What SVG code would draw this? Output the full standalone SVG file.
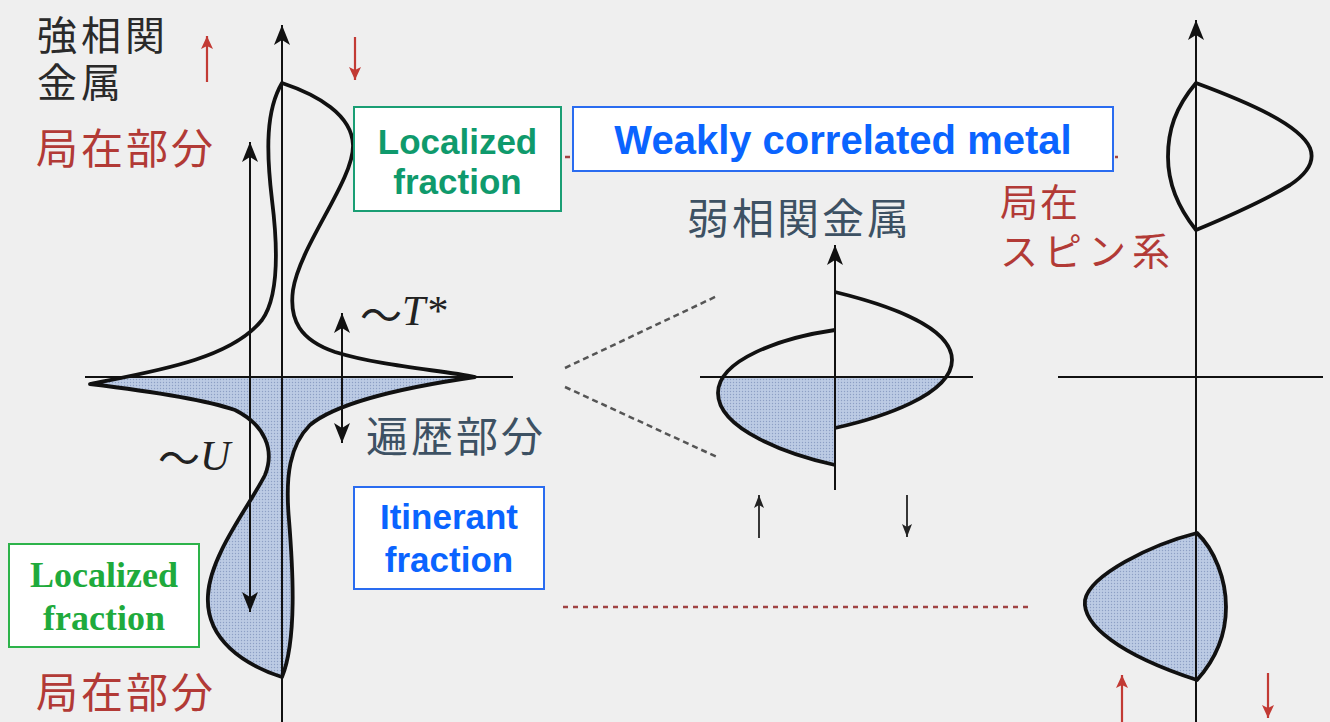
<svg xmlns="http://www.w3.org/2000/svg" width="1330" height="722" viewBox="0 0 1330 722">
<style>
.ax{stroke:#111;stroke-width:2;fill:none}
.cv{stroke:#111;stroke-width:3.8;fill:none;stroke-linejoin:round}
.sh{fill:url(#dots);stroke:none}
.jp{font-family:"Noto Sans CJK JP","Noto Sans CJK SC",sans-serif}
.red{fill:#b23a36}
.slate{fill:#3d5163}
.blk{fill:#2a2a2a}
.en{font-family:"Liberation Sans",Arial,sans-serif;font-weight:bold;text-anchor:middle}
.ser{font-family:"Liberation Serif","Times New Roman",serif;font-weight:bold;text-anchor:middle}
.rarr{stroke:#c23a34;stroke-width:2.2;fill:none}
.tarr{stroke:#222;stroke-width:1.8;fill:none}
</style>
<defs>
<pattern id="dots" width="3" height="3" patternUnits="userSpaceOnUse">
<rect width="3" height="3" fill="#bccbe4"/>
<circle cx="1.5" cy="1.5" r="0.7" fill="#8d9fc4"/>
</pattern>
<marker id="ah" markerUnits="userSpaceOnUse" markerWidth="22" markerHeight="16" refX="20" refY="8" orient="auto-start-reverse">
<path d="M0,0 L20,8 L0,16 L5,8 z" fill="#111"/>
</marker>
<marker id="ahs" markerUnits="userSpaceOnUse" markerWidth="14" markerHeight="10" refX="13" refY="5" orient="auto-start-reverse">
<path d="M0,0 L13,5 L0,10 L3,5 z" fill="#222"/>
</marker>
<marker id="ahr" markerUnits="userSpaceOnUse" markerWidth="14" markerHeight="12" refX="13" refY="6" orient="auto">
<path d="M0,0 L13,6 L0,12 L3,6 z" fill="#c23a34"/>
</marker>
<clipPath id="below"><rect x="0" y="377" width="1330" height="345"/></clipPath>
</defs>
<rect width="1330" height="722" fill="#efefef"/>

<g id="left-plot">
<path class="sh" clip-path="url(#below)" d="M282,83 C318,95 352,115 353,145 C354,180 300,245 293,290 C289,320 300,340 335,352 C380,366 440,370 475,377 C420,385 340,400 310,425 C290,445 285,475 289,520 C293,570 297,640 282,677 C245,665 205,640 208,595 C210,555 250,505 265,475 C275,450 265,425 235,410 C200,398 140,390 90,384 C150,372 230,360 262,320 C280,295 277,240 272,200 C266,150 266,110 282,83 Z"/>
<line class="ax" x1="85" y1="377" x2="513" y2="377"/>
<line class="ax" x1="282" y1="722" x2="282" y2="25" marker-end="url(#ah)"/>
<path class="cv" d="M282,83 C318,95 352,115 353,145 C354,180 300,245 293,290 C289,320 300,340 335,352 C380,366 440,370 475,377 C420,385 340,400 310,425 C290,445 285,475 289,520 C293,570 297,640 282,677 C245,665 205,640 208,595 C210,555 250,505 265,475 C275,450 265,425 235,410 C200,398 140,390 90,384 C150,372 230,360 262,320 C280,295 277,240 272,200 C266,150 266,110 282,83 Z"/>
</g>

<g id="middle-plot">
<path class="sh" clip-path="url(#below)" d="M835,292 C880,303 952,325 952,360 C952,395 880,418 835,428 Z"/>
<path class="sh" clip-path="url(#below)" d="M835,330 C780,338 718,360 718,393 C718,430 790,455 835,465 Z"/>
<line class="ax" x1="700" y1="377" x2="973" y2="377"/>
<line class="ax" x1="835" y1="490" x2="835" y2="245" marker-end="url(#ah)"/>
<path class="cv" d="M835,292 C880,303 952,325 952,360 C952,395 880,418 835,428"/>
<path class="cv" d="M835,330 C780,338 718,360 718,393 C718,430 790,455 835,465"/>
</g>

<g id="right-plot">
<path class="sh" d="M1197,533 C1150,545 1090,575 1085,600 C1082,625 1120,655 1197,680 C1215,660 1226,635 1226,607 C1226,580 1215,550 1197,533 Z"/>
<line class="ax" x1="1058" y1="377" x2="1323" y2="377"/>
<line class="ax" x1="1196" y1="722" x2="1196" y2="20" marker-end="url(#ah)"/>
<path class="cv" d="M1196,83 C1250,103 1300,125 1310,148 C1316,163 1305,175 1290,185 C1260,203 1220,220 1196,230 C1180,210 1168,185 1168,157 C1168,130 1175,108 1196,83 Z"/>
<path class="cv" d="M1197,533 C1150,545 1090,575 1085,600 C1082,625 1120,655 1197,680 C1215,660 1226,635 1226,607 C1226,580 1215,550 1197,533 Z"/>
</g>

<g id="connectors">
<line class="ax" x1="250" y1="142" x2="250" y2="612" marker-start="url(#ah)" marker-end="url(#ah)"/>
<line class="ax" x1="342" y1="313" x2="342" y2="443" marker-start="url(#ah)" marker-end="url(#ah)"/>
<line x1="565" y1="368" x2="717" y2="296" stroke="#555" stroke-width="2.5" stroke-dasharray="6,4"/>
<line x1="565" y1="387" x2="717" y2="457" stroke="#555" stroke-width="2.5" stroke-dasharray="6,4"/>
<line x1="563" y1="607" x2="1030" y2="607" stroke="#a04444" stroke-width="2.5" stroke-dasharray="5,5"/>
<line x1="565" y1="157" x2="1118" y2="157" stroke="#a04444" stroke-width="2.5" stroke-dasharray="5,5"/>
<line class="tarr" x1="759" y1="538" x2="759" y2="495" marker-end="url(#ahs)"/>
<line class="tarr" x1="907" y1="495" x2="907" y2="537" marker-end="url(#ahs)"/>
<line class="rarr" x1="207" y1="82" x2="207" y2="36" marker-end="url(#ahr)"/>
<line class="rarr" x1="355" y1="37" x2="355" y2="80" marker-end="url(#ahr)"/>
<line class="rarr" x1="1122" y1="722" x2="1122" y2="675" marker-end="url(#ahr)"/>
<line class="rarr" x1="1268" y1="673" x2="1268" y2="718" marker-end="url(#ahr)"/>
</g>

<g id="labels-jp">
<text class="jp blk" x="37" y="50" font-size="40" letter-spacing="4"><tspan x="37" y="50">強相関</tspan><tspan x="37" y="97">金属</tspan></text>
<text class="jp red" x="36" y="164" font-size="42" letter-spacing="3">局在部分</text>
<text class="jp red" x="36" y="708" font-size="42" letter-spacing="3">局在部分</text>
<text class="jp slate" x="366" y="452" font-size="42" letter-spacing="3">遍歴部分</text>
<text class="jp slate" x="687" y="234" font-size="42" letter-spacing="3">弱相関金属</text>
<text class="jp red" x="1000" y="216" font-size="38"><tspan x="1000" y="216" letter-spacing="2">局在</tspan><tspan x="1000" y="265" letter-spacing="6">スピン系</tspan></text>
</g>

<g id="labels-math" fill="#222">
<text x="360" y="325" font-size="42"><tspan class="jp" dy="6">〜</tspan><tspan font-family="Liberation Serif,serif" font-style="italic" dy="-6">T</tspan><tspan font-family="Liberation Serif,serif" dx="2">*</tspan></text>
<text x="158" y="470" font-size="42"><tspan class="jp" dy="4">〜</tspan><tspan font-family="Liberation Serif,serif" font-style="italic" dy="-4">U</tspan></text>
</g>

<g id="box-localized-top">
<rect x="354" y="107" width="207" height="104" fill="#fff" stroke="#1a9e74" stroke-width="2"/>
<text class="en" x="457.5" y="154" font-size="35" fill="#0f9a6c">Localized</text>
<text class="en" x="457.5" y="194" font-size="35" fill="#0f9a6c">fraction</text>
</g>

<g id="box-weakly">
<rect x="573" y="107" width="540" height="64" fill="#fff" stroke="#2a6cf0" stroke-width="2"/>
<text class="en" x="843" y="154" font-size="40" fill="#0a64ff">Weakly correlated metal</text>
</g>

<g id="box-itinerant">
<rect x="354" y="487" width="190" height="102" fill="#fff" stroke="#2a6cf0" stroke-width="2"/>
<text class="en" x="449" y="529" font-size="35" fill="#0a64ff">Itinerant</text>
<text class="en" x="449" y="572" font-size="35" fill="#0a64ff">fraction</text>
</g>

<g id="box-localized-bottom">
<rect x="9" y="544" width="190" height="103" fill="#fff" stroke="#2db34a" stroke-width="2"/>
<text class="ser" x="104" y="587" font-size="36" fill="#1faa3c">Localized</text>
<text class="ser" x="104" y="630" font-size="36" fill="#1faa3c">fraction</text>
</g>
</svg>
